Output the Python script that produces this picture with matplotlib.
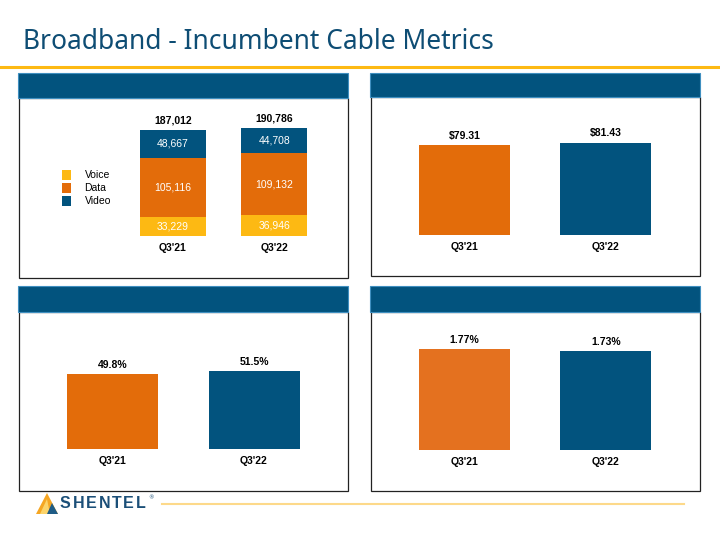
import matplotlib
matplotlib.use("Agg")
import matplotlib.pyplot as plt
from matplotlib.patches import Rectangle, Polygon

# data
quarters = ["Q3'21", "Q3'22"]
voice = [33229, 36946]
data_subs = [105116, 109132]
video = [48667, 44708]
arpu = [79.31, 81.43]
penetration = [49.8, 51.5]
churn = [1.77, 1.73]

ORANGE = "#E36C0A"
ORANGE2 = "#E4711F"
BLUE = "#02537E"
YELLOW = "#FDB913"
TITLE_BLUE = "#0E4D74"

W, H = 720, 540
fig = plt.figure(figsize=(7.2, 5.4), dpi=100)


def px_axes(x0, y0, x1, y1):
    # pixel box (top-left origin) -> figure axes
    return fig.add_axes([x0 / W, 1 - y1 / H, (x1 - x0) / W, (y1 - y0) / H])


def fig_rect(x0, y0, x1, y1, **kw):
    r = Rectangle((x0 / W, 1 - y1 / H), (x1 - x0) / W, (y1 - y0) / H,
                  transform=fig.transFigure, zorder=-1, **kw)
    fig.patches.append(r)


# title + rule
fig.text(23 / W, 1 - 42 / H, "Broadband - Incumbent Cable Metrics",
         fontsize=19, color=TITLE_BLUE, va="center", ha="left",
         family="Noto Sans")
fig.add_artist(plt.Line2D([0, 1], [1 - 67 / H, 1 - 67 / H],
                          transform=fig.transFigure, color=YELLOW, lw=2.2))

# panels: header band + boxed body
panels = [(18, 73, 348, 98, 278), (370, 73, 700, 97, 276),
          (18, 286, 348, 312, 491), (370, 286, 700, 312, 491)]
for x0, y0, x1, yh, yb in panels:
    fig_rect(x0 + 1, yh, x1, yb, facecolor="white", edgecolor="#222222", lw=0.9)
    fig_rect(x0, y0, x1, yh, facecolor=BLUE, edgecolor="#3F8FC0", lw=0.8)


def setup(ax, centers, spacing, left, right):
    ax.set_xlim(-(centers - left) / spacing, (right - centers) / spacing)
    for s in ax.spines.values():
        s.set_visible(False)
    ax.set_yticks([])
    ax.set_xticks(range(len(quarters)))
    ax.set_xticklabels(quarters, fontweight="bold", fontsize=7.5,
                       family="Liberation Sans")
    ax.tick_params(axis="x", length=0, pad=5)
    ax.patch.set_alpha(0)


lab = dict(ha="center", va="bottom", fontsize=7.5, fontweight="bold",
           family="Liberation Sans", textcoords="offset points")

# panel 1: stacked subscribers
ax1 = px_axes(19, 100, 348, 236)
setup(ax1, 173, 101.5, 19, 348)
ax1.set_ylim(0, 136 / 0.567 * 1000)
bw = 66 / 101.5
x = range(len(quarters))
b_v = ax1.bar(x, voice, bw, color=YELLOW, label="Voice")
bottoms = [v for v in voice]
b_d = ax1.bar(x, data_subs, bw, bottom=bottoms, color=ORANGE, label="Data")
bottoms2 = [v + d for v, d in zip(voice, data_subs)]
b_vi = ax1.bar(x, video, bw, bottom=bottoms2, color=BLUE, label="Video")
for i in x:
    segs = [(voice[i], 0), (data_subs[i], bottoms[i]), (video[i], bottoms2[i])]
    for val, bot in segs:
        ax1.text(i, bot + val / 2, f"{val:,}", ha="center", va="center",
                 color="white", fontsize=7.5, family="Liberation Sans")
    total = voice[i] + data_subs[i] + video[i]
    ax1.annotate(f"{total:,}", (i, total), xytext=(0, 3), **lab)
ax1.legend(loc="center left", bbox_to_anchor=((57 - 19) / 329, 0.353),
           frameon=False, handlelength=0.85, handleheight=1.2,
           handletextpad=1.3, labelspacing=0.2, borderpad=0,
           prop={"family": "Liberation Sans", "size": 7.5})

# panel 2: ARPU
ax2 = px_axes(370, 100, 700, 235)
setup(ax2, 464.5, 141.5, 370, 700)
ax2.set_ylim(0, 135 / 1.135)
bw2 = 91 / 141.5
ax2.bar(x, arpu, bw2, color=[ORANGE, BLUE])
for i in x:
    ax2.annotate(f"${arpu[i]:.2f}", (i, arpu[i]), xytext=(0, 3), **lab)

# panel 3: penetration
ax3 = px_axes(19, 315, 348, 449)
setup(ax3, 112.5, 141.5, 19, 348)
ax3.set_ylim(0, 134 / 1.506)
ax3.bar(x, penetration, bw2, color=[ORANGE, BLUE])
for i in x:
    ax3.annotate(f"{penetration[i]:.1f}%", (i, penetration[i]), xytext=(0, 3), **lab)

# panel 4: churn
ax4 = px_axes(370, 315, 700, 450)
setup(ax4, 464.5, 141.5, 370, 700)
ax4.set_ylim(0, 135 / 57)
ax4.bar(x, churn, bw2, color=[ORANGE2, BLUE])
for i in x:
    ax4.annotate(f"{churn[i]:.2f}%", (i, churn[i]), xytext=(0, 3), **lab)


# footer logo + rule
def fpt(px, py):
    return (px / W, 1 - py / H)


fig.patches.append(Polygon([fpt(36, 514), fpt(47, 493), fpt(58, 514)],
                           closed=True, transform=fig.transFigure,
                           facecolor="#F5A623", edgecolor="none"))
fig.patches.append(Polygon([fpt(40, 514), fpt(47, 499), fpt(50, 514)],
                           closed=True, transform=fig.transFigure,
                           facecolor="#FCD46A", edgecolor="none"))
fig.patches.append(Polygon([fpt(47, 514), fpt(52, 503), fpt(58, 514)],
                           closed=True, transform=fig.transFigure,
                           facecolor="#1F5C86", edgecolor="none"))

# spaced-out logo letters
renderer = fig.canvas.get_renderer()
cx = 60
for ch in "SHENTEL":
    t = fig.text(cx / W, 1 - 504 / H, ch, fontsize=11.5, fontweight="bold",
                 color="#1B4F78", va="center", ha="left",
                 family="Liberation Sans")
    cx += t.get_window_extent(renderer).width + 1.8
fig.text((cx + 0.5) / W, 1 - 498 / H, "®", fontsize=4, color="#1B4F78",
         va="center", ha="left")
fig.add_artist(plt.Line2D([162 / W, 684 / W], [1 - 504 / H, 1 - 504 / H],
                          transform=fig.transFigure, color="#FDD98A", lw=1.5))

fig.savefig("out.png", dpi=100)
